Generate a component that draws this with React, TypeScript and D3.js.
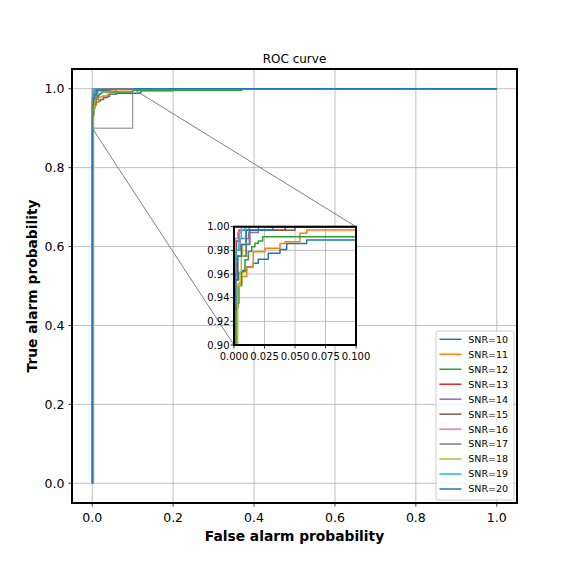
import React from "react";
import * as d3 from "d3";

const snrLabels = ["SNR=10", "SNR=11", "SNR=12", "SNR=13", "SNR=14", "SNR=15", "SNR=16", "SNR=17", "SNR=18", "SNR=19", "SNR=20"];
const lineColors = ["#1f77b4", "#ff7f0e", "#2ca02c", "#d62728", "#9467bd", "#8c564b", "#e377c2", "#7f7f7f", "#bcbd22", "#17becf", "#1f77b4"];

const fpr10 = [0, 0.0014, 0.0036, 0.0063, 0.0104, 0.0158, 0.0199, 0.0281, 0.0377, 0.0432, 0.0596, 0.12, 0.2, 1.0];
const tpr10 = [0, 0.955, 0.9606, 0.963, 0.9662, 0.969, 0.9724, 0.9775, 0.9808, 0.9859, 0.9887, 0.995, 1.0, 1.0];
const fpr11 = [0, 0.0027, 0.0036, 0.0063, 0.0104, 0.0158, 0.0254, 0.0377, 0.0418, 0.054, 0.0596, 0.17, 1.0];
const tpr11 = [0, 0.932, 0.952, 0.958, 0.966, 0.9789, 0.9817, 0.9859, 0.9873, 0.9944, 0.9972, 1.0, 1.0];
const fpr12 = [0, 0.0025, 0.004, 0.0063, 0.009, 0.0117, 0.0145, 0.0172, 0.0199, 0.0235, 0.1, 0.37, 1.0];
const tpr12 = [0, 0.935, 0.95, 0.962, 0.972, 0.979, 0.983, 0.986, 0.988, 0.9915, 0.996, 1.0, 1.0];
const fpr13 = [0, 0.001, 0.002, 0.004, 0.042, 1.0];
const tpr13 = [0, 0.98, 0.988, 0.997, 1.0, 1.0];
const fpr14 = [0, 0.0008, 0.002, 0.005, 0.012, 0.02, 1.0];
const tpr14 = [0, 0.97, 0.98, 0.99, 0.995, 1.0, 1.0];
const fpr15 = [0, 0.001, 0.003, 0.01, 0.013, 0.05, 1.0];
const tpr15 = [0, 0.955, 0.975, 0.985, 0.997, 1.0, 1.0];
const fpr16 = [0, 0.0005, 0.001, 0.003, 0.006, 1.0];
const tpr16 = [0, 0.98, 0.99, 0.995, 1.0, 1.0];
const fpr17 = [0, 0.0008, 0.002, 0.01, 0.0125, 1.0];
const tpr17 = [0, 0.96, 0.975, 0.985, 1.0, 1.0];
const fpr18 = [0, 0.003, 0.005, 0.006, 0.007, 0.0096, 1.0];
const tpr18 = [0, 0.95, 0.962, 0.975, 0.985, 1.0, 1.0];
const fpr19 = [0, 0.0005, 0.0015, 0.004, 0.006, 0.009, 1.0];
const tpr19 = [0, 0.97, 0.98, 0.99, 0.997, 1.0, 1.0];
const fpr20 = [0, 0.0005, 0.0015, 0.003, 0.006, 0.01, 0.032, 1.0];
const tpr20 = [0, 0.93, 0.96, 0.975, 0.985, 0.997, 1.0, 1.0];

const fprList = [fpr10, fpr11, fpr12, fpr13, fpr14, fpr15, fpr16, fpr17, fpr18, fpr19, fpr20];
const tprList = [tpr10, tpr11, tpr12, tpr13, tpr14, tpr15, tpr16, tpr17, tpr18, tpr19, tpr20];

const mainTicks = [0, 0.2, 0.4, 0.6, 0.8, 1.0];
const insetXTicks = [0, 0.025, 0.05, 0.075, 0.1];
const insetYTicks = [0.9, 0.92, 0.94, 0.96, 0.98, 1.0];

const FONT = "DejaVu Sans, sans-serif";

export default function App() {
  const W = 576, H = 576;
  const m = { l: 72, r: 517, t: 69, b: 503 };
  const x = d3.scaleLinear().domain([-0.05, 1.05]).range([m.l, m.r]);
  const y = d3.scaleLinear().domain([-0.05, 1.05]).range([m.b, m.t]);
  const ins = { l: 234, r: 356, t: 226.7, b: 345 };
  const xi = d3.scaleLinear().domain([0, 0.1]).range([ins.l, ins.r]);
  const yi = d3.scaleLinear().domain([0.9, 1.0]).range([ins.b, ins.t]);

  const mainLine = (k: number) =>
    d3.line<number>().x((i) => x(fprList[k][i])).y((i) => y(tprList[k][i])).curve(d3.curveStepAfter)(d3.range(fprList[k].length)) || "";
  const insetLine = (k: number) =>
    d3.line<number>().x((i) => xi(fprList[k][i])).y((i) => yi(tprList[k][i])).curve(d3.curveStepAfter)(d3.range(fprList[k].length)) || "";

  const f1 = d3.format(".1f");
  const f3 = d3.format(".3f");
  const f2 = d3.format(".2f");

  const legX = 436, legY = 331, legW = 78, legH = 169;
  const rowY0 = 339.3, rowStep = 14.97;

  return (
    <svg width={W} height={H} style={{ position: "absolute", left: 0, top: 0, background: "#fff" }} fontFamily={FONT}>
      <defs>
        <clipPath id="mainClip"><rect x={m.l} y={m.t} width={m.r - m.l} height={m.b - m.t} /></clipPath>
        <clipPath id="insClip"><rect x={ins.l} y={ins.t} width={ins.r - ins.l} height={ins.b - ins.t} /></clipPath>
      </defs>
      <rect x={0} y={0} width={W} height={H} fill="#fff" />
      {/* main grid */}
      {mainTicks.map((t) => (
        <g key={"g" + t}>
          <line x1={x(t)} x2={x(t)} y1={m.t} y2={m.b} stroke="#b0b0b0" strokeWidth={0.8} />
          <line x1={m.l} x2={m.r} y1={y(t)} y2={y(t)} stroke="#b0b0b0" strokeWidth={0.8} />
        </g>
      ))}
      {/* main curves */}
      <g clipPath="url(#mainClip)">
        {fprList.map((_, k) => (
          <path key={"m" + k} d={mainLine(k)} fill="none" stroke={lineColors[k]} strokeWidth={1.5} strokeLinejoin="round" />
        ))}
      </g>
      {/* ticks main */}
      {mainTicks.map((t) => (
        <g key={"t" + t}>
          <line x1={x(t)} x2={x(t)} y1={m.b} y2={m.b + 3.5} stroke="#000" strokeWidth={0.8} />
          <text x={x(t)} y={521.5} fontSize={12.5} textAnchor="middle" fill="#000">{f1(t)}</text>
          <line x1={m.l - 3.5} x2={m.l} y1={y(t)} y2={y(t)} stroke="#000" strokeWidth={0.8} />
          <text x={64.5} y={y(t) + 4.5} fontSize={12.5} textAnchor="end" fill="#000">{f1(t)}</text>
        </g>
      ))}
      <rect x={m.l} y={m.t} width={m.r - m.l} height={m.b - m.t} fill="none" stroke="#000" strokeWidth={2} />
      <text x={(m.l + m.r) / 2} y={540.5} fontSize={13.8} fontWeight="bold" textAnchor="middle">False alarm probability</text>
      <text transform={`translate(36.5, ${(m.t + m.b) / 2}) rotate(-90)`} fontSize={13.8} fontWeight="bold" textAnchor="middle">True alarm probability</text>
      <text x={(m.l + m.r) / 2} y={63} fontSize={12} textAnchor="middle">ROC curve</text>

      {/* zoom rectangle and connectors */}
      <rect x={x(0)} y={y(1.0)} width={x(0.1) - x(0)} height={y(0.9) - y(1.0)} fill="none" stroke="#808080" strokeWidth={1} />
      <line x1={x(0)} y1={y(0.9)} x2={ins.l} y2={ins.b} stroke="#808080" strokeWidth={1} />
      <line x1={x(0.1)} y1={y(1.0)} x2={ins.r} y2={ins.t} stroke="#808080" strokeWidth={1} />

      {/* inset */}
      <rect x={ins.l} y={ins.t} width={ins.r - ins.l} height={ins.b - ins.t} fill="#fff" />
      {insetXTicks.map((t) => (
        <line key={"ix" + t} x1={xi(t)} x2={xi(t)} y1={ins.t} y2={ins.b} stroke="#b0b0b0" strokeWidth={0.8} />
      ))}
      {insetYTicks.map((t) => (
        <line key={"iy" + t} x1={ins.l} x2={ins.r} y1={yi(t)} y2={yi(t)} stroke="#b0b0b0" strokeWidth={0.8} />
      ))}
      <g clipPath="url(#insClip)">
        {fprList.map((_, k) => (
          <path key={"i" + k} d={insetLine(k)} fill="none" stroke={lineColors[k]} strokeWidth={1.5} strokeLinejoin="round" />
        ))}
      </g>
      {insetXTicks.map((t) => (
        <g key={"ixt" + t}>
          <line x1={xi(t)} x2={xi(t)} y1={ins.b} y2={ins.b + 3.5} stroke="#000" strokeWidth={0.8} />
          <text x={xi(t)} y={360} fontSize={10} textAnchor="middle">{f3(t)}</text>
        </g>
      ))}
      {insetYTicks.map((t) => (
        <g key={"iyt" + t}>
          <line x1={ins.l - 3.5} x2={ins.l} y1={yi(t)} y2={yi(t)} stroke="#000" strokeWidth={0.8} />
          <text x={229.5} y={yi(t) + 3.6} fontSize={10} textAnchor="end">{f2(t)}</text>
        </g>
      ))}
      <rect x={ins.l} y={ins.t} width={ins.r - ins.l} height={ins.b - ins.t} fill="none" stroke="#000" strokeWidth={2} />

      {/* legend */}
      <rect x={legX} y={legY} width={legW} height={legH} rx={2} fill="#fff" fillOpacity={0.8} stroke="#cccccc" strokeWidth={1} />
      {snrLabels.map((s, k) => (
        <g key={"l" + k}>
          <line x1={439.5} x2={461.5} y1={rowY0 + k * rowStep} y2={rowY0 + k * rowStep} stroke={lineColors[k]} strokeWidth={1.5} />
          <text x={468.3} y={rowY0 + k * rowStep + 3.4} fontSize={9.5}>{s}</text>
        </g>
      ))}
    </svg>
  );
}
